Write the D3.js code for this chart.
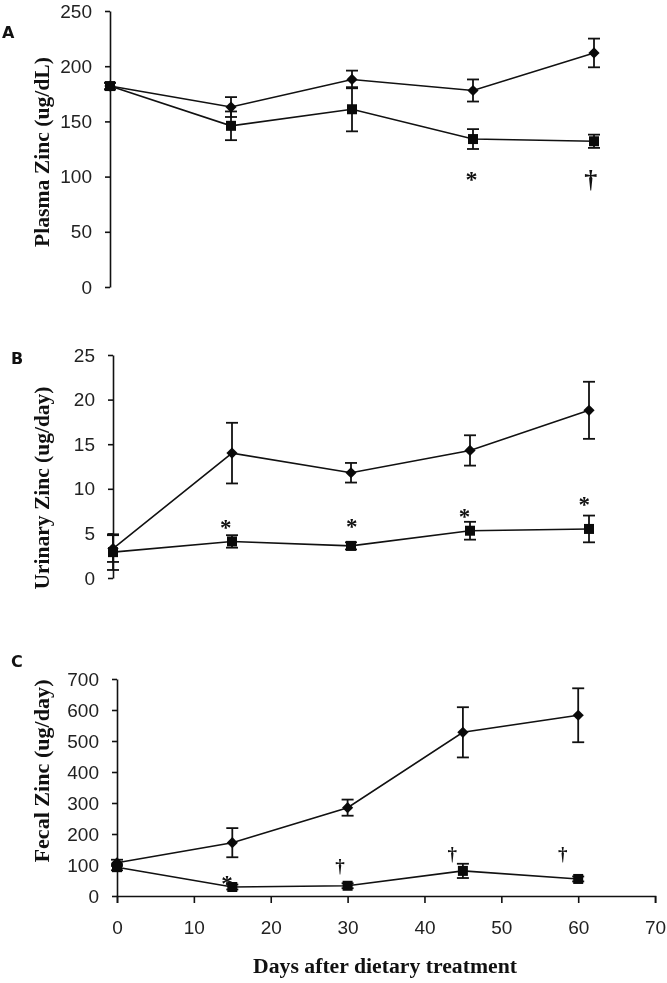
<!DOCTYPE html>
<html>
<head>
<meta charset="utf-8">
<script src="https://cdn.jsdelivr.net/npm/d3@7"></script>
<style>
  html, body { margin: 0; padding: 0; background: #ffffff; }
  svg { display: block; }
  text { -webkit-font-smoothing: antialiased; }
</style>
</head>
<body>
<svg id="chart" width="667" height="983"></svg>
<script>
// ---------------- DATA ----------------
const days = [0, 15, 30, 45, 60];

// Panel A: Plasma Zinc (ug/dL)
const plasmaDiamond    = [182, 163, 188, 178, 212];
const plasmaDiamondErr = [3, 9, 8, 10, 13];
const plasmaSquare     = [182, 146, 161, 134, 132];
const plasmaSquareErr  = [3, 13, 20, 9, 6];
const plasmaTicks = [0, 50, 100, 150, 200, 250];
const plasmaMarks = [{day: 44.8, value: 103, sym: "*"}, {day: 59.6, value: 97, sym: "\u2020"}];

// Panel B: Urinary Zinc (ug/day)
const urinaryDiamond    = [3.3, 14.0, 11.8, 14.3, 18.8];
const urinaryDiamondErr = [1.5, 3.4, 1.1, 1.7, 3.2];
const urinarySquare     = [2.9, 4.1, 3.6, 5.3, 5.5];
const urinarySquareErr  = [2.0, 0.7, 0.4, 1.0, 1.5];
const urinaryTicks = [0, 5, 10, 15, 20, 25];
const urinaryMarks = [
  {day: 14.2, value: 6.2, sym: "*"}, {day: 30.1, value: 6.3, sym: "*"},
  {day: 44.3, value: 7.5, sym: "*"}, {day: 59.4, value: 8.8, sym: "*"}];

// Panel C: Fecal Zinc (ug/day)
const fecalDiamond    = [107, 172, 285, 528, 583];
const fecalDiamondErr = [10, 47, 26, 81, 87];
const fecalSquare     = [93, 29, 33, 81, 55];
const fecalSquareErr  = [10, 8, 8, 23, 8];
const fecalTicks = [0, 100, 200, 300, 400, 500, 600, 700];
const fecalMarks = [
  {day: 14.3, value: 58, sym: "*"}, {day: 29.0, value: 97, sym: "\u2020"},
  {day: 43.6, value: 136, sym: "\u2020"}, {day: 58.0, value: 136, sym: "\u2020"}];

const dayTicks = [0, 10, 20, 30, 40, 50, 60, 70];

const panelLetters = ["A", "B", "C"];
const yTitles = ["Plasma Zinc (ug/dL)", "Urinary Zinc (ug/day)", "Fecal Zinc (ug/day)"];
const xTitle = "Days after dietary treatment";

// ---------------- LAYOUT ----------------
const svg = d3.select("#chart");
const tickFont = "'Liberation Sans', Arial, sans-serif";
const serifFont = "'Liberation Serif', 'Times New Roman', serif";

const panels = [
  {letter: panelLetters[0], title: yTitles[0], diamond: plasmaDiamond, dErr: plasmaDiamondErr,
   square: plasmaSquare, sErr: plasmaSquareErr, ticks: plasmaTicks, marks: plasmaMarks,
   yMax: 250, x0: 110, x60: 594, yTop: 11, yBot: 287, letterPos: [2, 38], titleCenter: [42, 152], titleLen: 190,
   markSizes: {"*": 24, "\u2020": 26}, showX: false},
  {letter: panelLetters[1], title: yTitles[1], diamond: urinaryDiamond, dErr: urinaryDiamondErr,
   square: urinarySquare, sErr: urinarySquareErr, ticks: urinaryTicks, marks: urinaryMarks,
   yMax: 25, x0: 113, x60: 589, yTop: 355, yBot: 578, letterPos: [11, 364], titleCenter: [42, 488], titleLen: 203,
   markSizes: {"*": 23, "\u2020": 20}, showX: false},
  {letter: panelLetters[2], title: yTitles[2], diamond: fecalDiamond, dErr: fecalDiamondErr,
   square: fecalSquare, sErr: fecalSquareErr, ticks: fecalTicks, marks: fecalMarks,
   yMax: 700, x0: 117, x60: 578.2, yTop: 679, yBot: 896, letterPos: [11, 667], titleCenter: [42, 771], titleLen: 183,
   markSizes: {"*": 23, "\u2020": 19}, showX: true}
];

const root = svg.append("g").attr("opacity", 0.999);

panels.forEach(p => {
  const g = root.append("g");
  const x = d3.scaleLinear().domain([0, 60]).range([p.x0, p.x60]);
  const y = d3.scaleLinear().domain([0, p.yMax]).range([p.yBot, p.yTop]);

  // Y axis
  const yAxis = d3.axisLeft(y).tickValues(p.ticks).tickSize(5).tickSizeOuter(0).tickPadding(13)
    .tickFormat(d3.format("d"));
  const ya = g.append("g").attr("transform", `translate(${p.x0},0)`).call(yAxis);
  ya.selectAll("path, line").attr("stroke", "#111").attr("stroke-width", 1.6);
  ya.selectAll("text").attr("font-family", tickFont).attr("font-size", 19).attr("fill", "#222");

  // X axis (bottom panel only)
  if (p.showX) {
    const xAxis = d3.axisBottom(x.copy().domain([0, 70]).range([p.x0, p.x0 + (p.x60 - p.x0) * 70 / 60]))
      .tickValues(dayTicks).tickSize(7).tickSizeOuter(7).tickPadding(18);
    const xa = g.append("g").attr("transform", `translate(0,${p.yBot})`).call(xAxis);
    xa.selectAll("path, line").attr("stroke", "#111").attr("stroke-width", 1.6);
    xa.selectAll("text").attr("font-family", tickFont).attr("font-size", 19).attr("fill", "#222");
  }

  // Panel letter
  g.append("text").attr("x", p.letterPos[0]).attr("y", p.letterPos[1])
    .attr("font-family", "'DejaVu Sans', Verdana, sans-serif").attr("font-weight", "bold").attr("font-size", 16)
    .attr("fill", "#111").text(p.letter);

  // Y title
  g.append("text")
    .attr("transform", `translate(${p.titleCenter[0]},${p.titleCenter[1]}) rotate(-90)`)
    .attr("text-anchor", "middle").attr("dominant-baseline", "central")
    .attr("font-family", serifFont).attr("font-weight", "bold").attr("font-size", 20)
    .attr("textLength", p.titleLen).attr("lengthAdjust", "spacingAndGlyphs")
    .attr("fill", "#111").text(p.title);

  const line = d3.line().x((d, i) => x(days[i])).y(d => y(d));
  [p.diamond, p.square].forEach(series => {
    g.append("path").datum(series).attr("d", line)
      .attr("fill", "none").attr("stroke", "#111").attr("stroke-width", 1.6);
  });

  // Error bars
  const drawErr = (vals, errs) => {
    const eg = g.append("g").attr("stroke", "#111").attr("stroke-width", 1.8);
    vals.forEach((v, i) => {
      const cx = x(days[i]);
      const top = y(v + errs[i]), bot = y(Math.max(0, v - errs[i]));
      eg.append("line").attr("x1", cx).attr("x2", cx).attr("y1", top).attr("y2", bot);
      eg.append("line").attr("x1", cx - 6).attr("x2", cx + 6).attr("y1", top).attr("y2", top);
      eg.append("line").attr("x1", cx - 6).attr("x2", cx + 6).attr("y1", bot).attr("y2", bot);
    });
  };
  drawErr(p.diamond, p.dErr);
  drawErr(p.square, p.sErr);

  // Markers
  const diamondSym = d3.symbol().type(d3.symbolDiamond2).size(80);
  g.selectAll(null).data(p.diamond).join("path")
    .attr("transform", (d, i) => `translate(${x(days[i])},${y(d)})`)
    .attr("d", diamondSym).attr("fill", "#0a0a0a");
  g.selectAll(null).data(p.square).join("rect")
    .attr("x", (d, i) => x(days[i]) - 5).attr("y", d => y(d) - 5)
    .attr("width", 10).attr("height", 10).attr("fill", "#0a0a0a");

  // Significance marks
  g.selectAll(null).data(p.marks).join("text")
    .attr("x", d => x(d.day)).attr("y", d => y(d.value))
    .attr("text-anchor", "middle").attr("dominant-baseline", "central")
    .attr("dy", d => d.sym === "*" ? "0.22em" : "0em")
    .attr("font-family", serifFont).attr("font-weight", "bold").attr("font-size", d => p.markSizes[d.sym])
    .attr("fill", "#111").text(d => d.sym);
});

// X title
root.append("text").attr("x", 385).attr("y", 973).attr("text-anchor", "middle")
  .attr("font-family", serifFont).attr("font-weight", "bold").attr("font-size", 20)
  .attr("textLength", 264).attr("lengthAdjust", "spacingAndGlyphs")
  .attr("fill", "#111").text(xTitle);
</script>
</body>
</html>
